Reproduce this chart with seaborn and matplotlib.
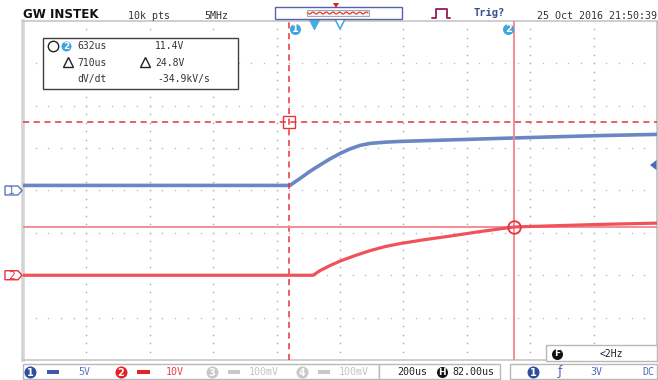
import matplotlib
matplotlib.use("Agg")
import numpy as np
import pandas as pd
import matplotlib.pyplot as plt
import matplotlib.transforms as mtrans
from matplotlib.patches import Rectangle, Polygon
from matplotlib.lines import Line2D
import seaborn as sns

# ---- scope settings ----
TIME_DIV = 200.0    # us / div
H_POS = 82.0        # us at screen centre
CH1_VDIV = 5.0      # V / div
CH2_VDIV = 10.0     # V / div
CH1_POS = 0.0       # ground marker, divisions from centre
CH2_POS = -2.0
TRIG_LEVEL = 3.0    # V on CH1

# ---- captured waveforms (time in us, volts) ----
ch1_t = [-918, -76, -44, -13, 19, 50, 82, 114, 145, 177, 224, 271, 429, 587, 745, 902, 1082]
ch1_v = [0.6, 0.6, 1.42, 2.25, 3.01, 3.72, 4.37, 4.91, 5.32, 5.56, 5.70, 5.79, 5.97, 6.15, 6.32, 6.48, 6.62]
ch2_t = [-918, -3, 19, 50, 82, 129, 177, 224, 271, 350, 429, 524, 632, 776, 902, 1082]
ch2_v = [0.0, 0.0, 1.09, 2.27, 3.33, 4.63, 5.81, 6.76, 7.47, 8.41, 9.24, 10.31, 11.4, 11.72, 12.0, 12.3]

# ---- cursors ----
cur_t2 = 632.0      # us
cur_dt = 710.0      # us
cur_v2 = 11.4       # V (CH2)
cur_dv = 24.8       # V
cur_t1 = cur_t2 - cur_dt
cur_v1 = cur_v2 + cur_dv

# ---- status texts ----
record_len = "10k pts"
sample_rate = "5MHz"
timestamp = "25 Oct 2016 21:50:39"
freq_text = "<2Hz"

sns.set_style("white")
plt.rcParams["font.family"] = ["DejaVu Sans Mono", "DejaVu Sans"]

W, H = 658, 380
fig = plt.figure(figsize=(W / 100, H / 100), dpi=100)
fig.patch.set_facecolor("white")
# pixel coordinates, origin at top-left
PX = mtrans.Affine2D().scale(1 / W, -1 / H).translate(0, 1) + fig.transFigure

L, T, R, B = 23, 21, 657, 360
rect = [L / W, 1 - B / H, (R - L) / W, (B - T) / H]
DIV_W = (R - L) / 10
DIV_H = (B - T) / 8

# ---- graticule (in divisions) ----
axg = fig.add_axes(rect)
axg.set_xlim(-5, 5)
axg.set_ylim(-4, 4)
for xi in range(-4, 5):
    ys = np.arange(-3.8, 3.81, 0.2)
    axg.plot(np.full_like(ys, xi), ys, ls="none", marker="s", ms=1.0, mew=0, color="#a8a8a8")
for yi in range(-3, 4):
    xs = np.arange(-4.8, 4.81, 0.2)
    axg.plot(xs, np.full_like(xs, yi), ls="none", marker="s", ms=1.0, mew=0, color="#bcbcbc")
axg.set_xticks([])
axg.set_yticks([])
for s in axg.spines.values():
    s.set_color("#c6c6c6")
    s.set_linewidth(1.2)
axg.spines["left"].set_linewidth(2.6)
axg.spines["left"].set_color("#d4d4d4")
axg.spines["right"].set_linewidth(2.0)

# ---- channel axes ----
xlim = (H_POS - 5 * TIME_DIV, H_POS + 5 * TIME_DIV)
ax1 = fig.add_axes(rect, facecolor="none")
ax1.set_xlim(*xlim)
ax1.set_ylim((-4 - CH1_POS) * CH1_VDIV, (4 - CH1_POS) * CH1_VDIV)
ax2 = fig.add_axes(rect, facecolor="none")
ax2.set_xlim(*xlim)
ax2.set_ylim((-4 - CH2_POS) * CH2_VDIV, (4 - CH2_POS) * CH2_VDIV)

blue = "#6b86c5"
red = "#f0525a"
cur_red = "#e8333c"
cur_pink = "#f2868c"

df1 = pd.DataFrame({"time": ch1_t, "volts": ch1_v})
df2 = pd.DataFrame({"time": ch2_t, "volts": ch2_v})

# cursors
ax2.axvline(cur_t1, color=cur_red, lw=1.1, ls=(0, (4, 3)), zorder=1)
ax2.axvline(cur_t2, color=cur_pink, lw=1.3, zorder=1)
ax2.axhline(cur_v1, color=cur_red, lw=1.1, ls=(0, (4, 3)), zorder=1)
ax2.axhline(cur_v2, color=cur_pink, lw=1.3, zorder=1)

sns.lineplot(data=df1, x="time", y="volts", ax=ax1, color=blue, linewidth=2.6,
             estimator=None, sort=False, legend=False)
sns.lineplot(data=df2, x="time", y="volts", ax=ax2, color=red, linewidth=2.3,
             estimator=None, sort=False, legend=False)
ax1.axis("off")
ax2.axis("off")

ax2.plot([cur_t1], [cur_v1], marker="s", ms=8, mfc="none", mec=cur_red, mew=1.0, zorder=5)
ax2.plot([cur_t2], [cur_v2], marker="o", ms=9, mfc="none", mec=cur_red, mew=1.3, zorder=5)

# trigger / position markers along the top
top_tr = mtrans.blended_transform_factory(ax2.transData, PX)
tri_c = "#45aee6"
ax2.plot([0], [24], transform=top_tr, marker="v", ms=7, color=tri_c, clip_on=False, zorder=6)
ax2.plot([H_POS], [24], transform=top_tr, marker="v", ms=7, mfc="white", mec=tri_c,
         mew=1.2, clip_on=False, zorder=6)


def badge(x, y, label, color, d=11, fs=7, fc="white"):
    fig.add_artist(Line2D([x], [y], transform=PX, marker="o", ms=d * 0.72,
                          color=color, mew=0, ls="none", zorder=8))
    fig.text(x, y + 0.5, label, transform=PX, ha="center", va="center", zorder=9,
             fontsize=fs, color=fc, fontweight="bold", family="DejaVu Sans")


def px_x(t):
    return L + (t - xlim[0]) / (xlim[1] - xlim[0]) * (R - L)


badge(px_x(cur_t1) + 6, 29, "1", "#3da5df", d=11)
badge(px_x(cur_t2) - 6, 29, "2", "#3da5df", d=11)


# ---- channel ground markers on the left ----
def ch_px_y(pos_div):
    return T + (4 - pos_div) * DIV_H


for lab, pos, col in (("1", CH1_POS, "#5a78bc"), ("2", CH2_POS, "#e8303a")):
    yc = ch_px_y(pos)
    fig.add_artist(Polygon([(5, yc - 4.5), (18, yc - 4.5), (22, yc), (18, yc + 4.5), (5, yc + 4.5)],
                           closed=True, transform=PX, fc="white", ec=col, lw=1.0, zorder=8))
    fig.text(11.5, yc + 0.5, lab, transform=PX, ha="center", va="center", fontsize=8,
             color=col, zorder=9)

# trigger level marker on the right
ytr = ch_px_y(CH1_POS + TRIG_LEVEL / CH1_VDIV)
fig.add_artist(Polygon([(650, ytr), (656.5, ytr - 5), (656.5, ytr + 5)], closed=True,
                       transform=PX, fc="#4a6ab8", ec="none", zorder=8))

# ---- cursor readout box ----
fig.add_artist(Rectangle((43, 38), 195, 51, transform=PX, fc="white", ec="#404040", lw=1.0, zorder=7))
fig.add_artist(Line2D([53], [46], transform=PX, marker="o", ms=7.5, mfc="none", mec="#222222",
                      mew=1.0, ls="none", zorder=8))
badge(66, 46, "2", "#3da5df", d=10, fs=6.5)
txt = dict(transform=PX, fontsize=7, color="#333333", va="center", ha="left", zorder=9)
fig.text(77, 46, f"{cur_t2:.0f}us", **txt)
fig.text(155, 46, f"{cur_v2:.1f}V", **txt)
for xt in (68, 145):
    fig.add_artist(Line2D([xt], [62], transform=PX, marker="^", ms=6.5, mfc="none", mec="#222222",
                          mew=1.0, ls="none", zorder=8))
fig.text(77, 62.5, f"{cur_dt:.0f}us", **txt)
fig.text(155, 62.5, f"{cur_dv:.1f}V", **txt)
fig.text(77, 79, "dV/dt", **txt)
fig.text(157, 79, f"{-cur_dv / cur_dt * 1e3:.1f}kV/s", **txt)

# ---- top status bar ----
fig.text(23, 14, "GW INSTEK", transform=PX, fontsize=8.6, fontweight="bold", color="#111111",
         family="DejaVu Sans", va="center", ha="left")
fig.text(128, 16, record_len, transform=PX, fontsize=7.2, color="#333333", va="center", ha="left")
fig.text(204, 16, sample_rate, transform=PX, fontsize=7.2, color="#333333", va="center", ha="left")
fig.text(537, 16, timestamp, transform=PX, fontsize=7.2, color="#333333", va="center", ha="left")
fig.text(473, 13, "Trig?", transform=PX, fontsize=7.5, color="#3a4a90", fontweight="bold",
         family="DejaVu Sans Mono", va="center", ha="left")

# memory bar
fig.add_artist(Rectangle((275, 6.5), 127, 12, transform=PX, fc="white", ec="#5a60b0", lw=1.0))
fig.add_artist(Rectangle((307, 10), 62, 6, transform=PX, fc="#f4f4f4", ec="#a8a8a8", lw=0.8))
wx = np.linspace(308, 368, 120)
fig.add_artist(Line2D(wx, 13 + 1.0 * np.sin((wx - 308) / 60 * 2 * np.pi * 9), transform=PX,
                      color="#e02828", lw=0.8))
fig.add_artist(Polygon([(333, 3), (339, 3), (336, 8)], closed=True, transform=PX,
                       fc="#e02020", ec="none"))

# trigger status icon
fig.add_artist(Line2D([432, 436, 436, 447, 447, 450], [18, 18, 9, 9, 18, 18], transform=PX,
                      color="#9a2a6a", lw=1.4))

# ---- frequency counter box ----
fig.add_artist(Rectangle((546, 345), 111, 16, transform=PX, fc="white", ec="#b8b8b8", lw=1.0, zorder=7))
badge(557, 353.5, "F", "#111111", d=11, fs=6.5)
fig.text(600, 354, freq_text, transform=PX, fontsize=7, color="#222222", va="center", ha="left", zorder=9)

# ---- bottom status bar ----
for x0, x1 in ((23, 379), (379, 500), (510, 657)):
    fig.add_artist(Rectangle((x0, 364), x1 - x0, 15, transform=PX, fc="white", ec="#b8b8b8", lw=1.0))

yb = 372
bottom_fs = 7.2
badge(30, yb, "1", "#2d4f9e", d=12)
fig.add_artist(Rectangle((47, yb - 2), 12, 4, transform=PX, fc="#3c5aa8", ec="none"))
fig.text(78, yb, f"{CH1_VDIV:.0f}V", transform=PX, fontsize=bottom_fs, color="#5a78bc",
         va="center", ha="left")
badge(121, yb, "2", "#e8202a", d=12)
fig.add_artist(Rectangle((137, yb - 2), 13, 4, transform=PX, fc="#e8202a", ec="none"))
fig.text(166, yb, f"{CH2_VDIV:.0f}V", transform=PX, fontsize=bottom_fs, color="#ee4048",
         va="center", ha="left")
for lab, xc in (("3", 212), ("4", 302)):
    badge(xc, yb, lab, "#c8c8c8", d=12)
    fig.add_artist(Rectangle((xc + 16, yb - 2), 12, 4, transform=PX, fc="#c8c8c8", ec="none"))
    fig.text(xc + 37, yb, "100mV", transform=PX, fontsize=bottom_fs, color="#c4c4c4",
             va="center", ha="left")

fig.text(397, yb, f"{TIME_DIV:.0f}us", transform=PX, fontsize=bottom_fs, color="#222222",
         va="center", ha="left")
badge(442, yb, "H", "#111111", d=11, fs=6.5)
fig.text(452, yb, f"{H_POS:.2f}us", transform=PX, fontsize=bottom_fs, color="#222222",
         va="center", ha="left")

badge(533, yb, "1", "#2d4f9e", d=12)
fig.text(560, yb, "ƒ", transform=PX, fontsize=9, color="#4a6ab8", va="center", ha="center",
         family="DejaVu Sans")
fig.text(590, yb, f"{TRIG_LEVEL:.0f}V", transform=PX, fontsize=bottom_fs, color="#4a6ab8",
         va="center", ha="left")
fig.text(642, yb, "DC", transform=PX, fontsize=bottom_fs, color="#4a6ab8", va="center", ha="left")

fig.savefig("out.png", dpi=100)
